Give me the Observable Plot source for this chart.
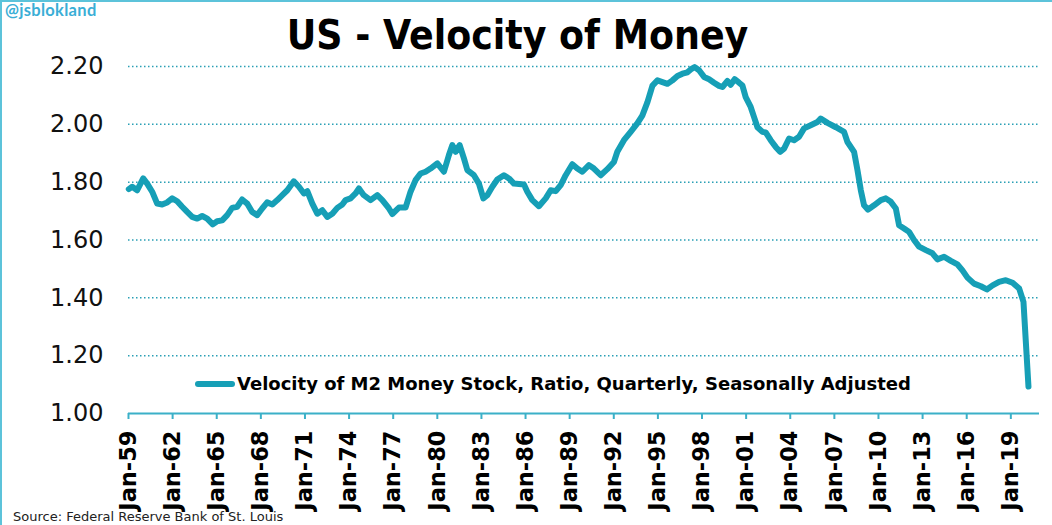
<!DOCTYPE html>
<html>
<head>
<meta charset="utf-8">
<script src="https://cdn.jsdelivr.net/npm/d3@7"></script>
<script src="https://cdn.jsdelivr.net/npm/@observablehq/plot@0.6"></script>
<style>
  html, body { margin: 0; padding: 0; background: #fff; }
  #wrap { position: relative; width: 1052px; height: 525px; overflow: hidden; background: #fff; box-shadow: inset 2px 2px 0 #5cc3da; }
  #wrap svg.plot { position: absolute; left: 0; top: 0; }
  #handle { position: absolute; left: 5px; top: 0px; font-family: Lato, "Noto Sans", sans-serif; font-weight: 700; font-size: 16.5px; color: #3aaed6; letter-spacing: 0.3px; }
  #title { position: absolute; left: 0; top: 10px; width: 1035px; text-align: center; font-family: "DejaVu Sans Condensed", "DejaVu Sans", sans-serif; font-weight: bold; font-size: 40.5px; color: #000; line-height: 50px; }
  #legend { position: absolute; left: 195px; top: 373px; display: flex; align-items: center; font-family: "DejaVu Sans", sans-serif; font-weight: bold; font-size: 18px; color: #000; white-space: nowrap; }
  #source { position: absolute; left: 13px; top: 509px; font-family: "DejaVu Sans", sans-serif; font-size: 13px; color: #222; white-space: nowrap; }
</style>
</head>
<body>
<div id="wrap">
  <div id="handle">@jsblokland</div>
  <div id="title">US - Velocity of Money</div>
  <div id="legend"><svg width="40" height="10" style="margin-right:2px"><line x1="3" y1="5" x2="37" y2="5" stroke="#169fb6" stroke-width="6" stroke-linecap="round"/></svg><span>Velocity of M2 Money Stock, Ratio, Quarterly, Seasonally Adjusted</span></div>
  <div id="source">Source: Federal Reserve Bank of St. Louis</div>
</div>
<script>
// Decimal year of each reading
const years = [
  1959.02,1959.25,1959.59,1960.0,1960.27,1960.61,1960.95,1961.29,1961.63,1961.97,
  1962.31,1962.65,1962.99,1963.33,1963.67,1964.01,1964.35,1964.73,1965.03,1965.37,
  1965.71,1966.05,1966.39,1966.73,1967.07,1967.41,1967.75,1968.09,1968.43,1968.78,
  1969.12,1969.46,1969.8,1970.24,1970.59,1970.93,1971.16,1971.5,1971.84,1972.18,
  1972.52,1972.86,1973.2,1973.54,1973.76,1974.1,1974.44,1974.67,1975.0,1975.46,
  1975.92,1976.26,1976.71,1976.94,1977.39,1977.84,1978.18,1978.52,1978.86,1979.2,
  1979.54,1980.0,1980.45,1980.79,1981.02,1981.24,1981.52,1981.81,1982.04,1982.49,
  1982.83,1983.13,1983.4,1983.74,1984.08,1984.53,1984.87,1985.21,1985.89,1986.12,
  1986.46,1986.91,1987.37,1987.71,1988.05,1988.39,1988.73,1989.18,1989.52,1989.86,
  1990.31,1990.65,1991.11,1991.56,1992.01,1992.24,1992.69,1993.15,1993.6,1993.94,
  1994.29,1994.63,1994.97,1995.31,1995.65,1995.99,1996.33,1996.67,1997.01,1997.23,
  1997.5,1997.8,1998.14,1998.48,1998.82,1999.16,1999.39,1999.73,1999.95,2000.22,
  2000.52,2000.75,2000.97,2001.31,2001.54,2001.77,2002.11,2002.33,2002.67,2003.01,
  2003.31,2003.58,2003.92,2004.26,2004.6,2004.94,2005.39,2005.85,2006.07,2006.53,
  2007.1,2007.66,2007.89,2008.34,2008.57,2008.8,2009.02,2009.29,2009.7,2010.16,
  2010.5,2010.84,2011.18,2011.4,2011.74,2012.08,2012.42,2012.76,2013.22,2013.67,
  2014.01,2014.46,2014.92,2015.37,2015.71,2016.05,2016.5,2016.96,2017.37,2017.76,
  2018.2,2018.66,2019.12,2019.57,2019.86,2020.2
];
// Velocity of M2 money stock (ratio)
const velocity = [
  1.776,1.784,1.772,1.813,1.795,1.767,1.726,1.723,1.73,1.744,
  1.734,1.715,1.697,1.68,1.674,1.683,1.674,1.654,1.665,1.668,
  1.686,1.711,1.715,1.74,1.726,1.697,1.686,1.709,1.73,1.723,
  1.738,1.755,1.772,1.803,1.784,1.761,1.769,1.726,1.691,1.703,
  1.68,1.691,1.711,1.723,1.738,1.744,1.761,1.778,1.755,1.738,
  1.755,1.738,1.709,1.69,1.712,1.712,1.767,1.807,1.83,1.836,
  1.847,1.865,1.836,1.894,1.928,1.905,1.928,1.882,1.842,1.824,
  1.795,1.744,1.755,1.784,1.809,1.824,1.813,1.795,1.792,1.767,
  1.738,1.717,1.744,1.772,1.769,1.79,1.824,1.862,1.847,1.836,
  1.859,1.847,1.824,1.845,1.87,1.905,1.945,1.974,2.003,2.03,
  2.077,2.134,2.152,2.146,2.14,2.152,2.167,2.175,2.18,2.19,
  2.198,2.187,2.164,2.156,2.144,2.133,2.129,2.15,2.137,2.156,
  2.144,2.134,2.094,2.06,2.025,1.99,1.974,1.972,1.945,1.922,
  1.905,1.916,1.951,1.945,1.957,1.986,1.997,2.008,2.02,2.005,
  1.99,1.974,1.939,1.905,1.842,1.772,1.72,1.705,1.72,1.738,
  1.744,1.732,1.709,1.651,1.64,1.628,1.6,1.577,1.565,1.554,
  1.533,1.542,1.528,1.516,1.495,1.47,1.449,1.44,1.429,1.443,
  1.455,1.461,1.452,1.432,1.386,1.093
];
const xTicks = [1959,1962,1965,1968,1971,1974,1977,1980,1983,1986,1989,1992,1995,1998,2001,2004,2007,2010,2013,2016,2019];
const yTicks = [1.0,1.2,1.4,1.6,1.8,2.0,2.2];

const data = years.map((y, i) => ({year: y, v: velocity[i]}));
const teal = "#169fb6";
const axisTeal = "#3bb0c8";

const chart = Plot.plot({
  width: 1052,
  height: 525,
  marginLeft: 128,
  marginRight: 13,
  marginTop: 66,
  marginBottom: 112,
  style: {fontFamily: "'DejaVu Sans', Verdana, sans-serif", background: "transparent", color: "#000", overflow: "visible"},
  x: {type: "linear", domain: [1959, 2020.95]},
  y: {domain: [1.0, 2.2]},
  marks: [
    Plot.gridY(yTicks.filter(d => d > 1), {stroke: "#2a9fb5", strokeOpacity: 1, strokeWidth: 1.5, strokeDasharray: "1.5,2.5"}),
    Plot.axisY({ticks: yTicks, tickFormat: d3.format(".2f"), tickSize: 0, tickPadding: 25, fontSize: 24, fill: "#111", label: null}),
    Plot.axisX({ticks: xTicks, tickFormat: d => "Jan-" + String(d).slice(2), tickRotate: -90, tickSize: 6, tickPadding: 11, fontSize: 22.5, fontWeight: "bold", stroke: axisTeal, strokeWidth: 2, fill: "#000", label: null}),
    Plot.ruleY([1.0], {stroke: axisTeal, strokeWidth: 2}),
    Plot.line(data, {x: "year", y: "v", stroke: teal, strokeWidth: 6, strokeLinejoin: "round", strokeLinecap: "round"})
  ]
});
chart.classList.add("plot");
document.getElementById("wrap").appendChild(chart);
</script>
</body>
</html>
